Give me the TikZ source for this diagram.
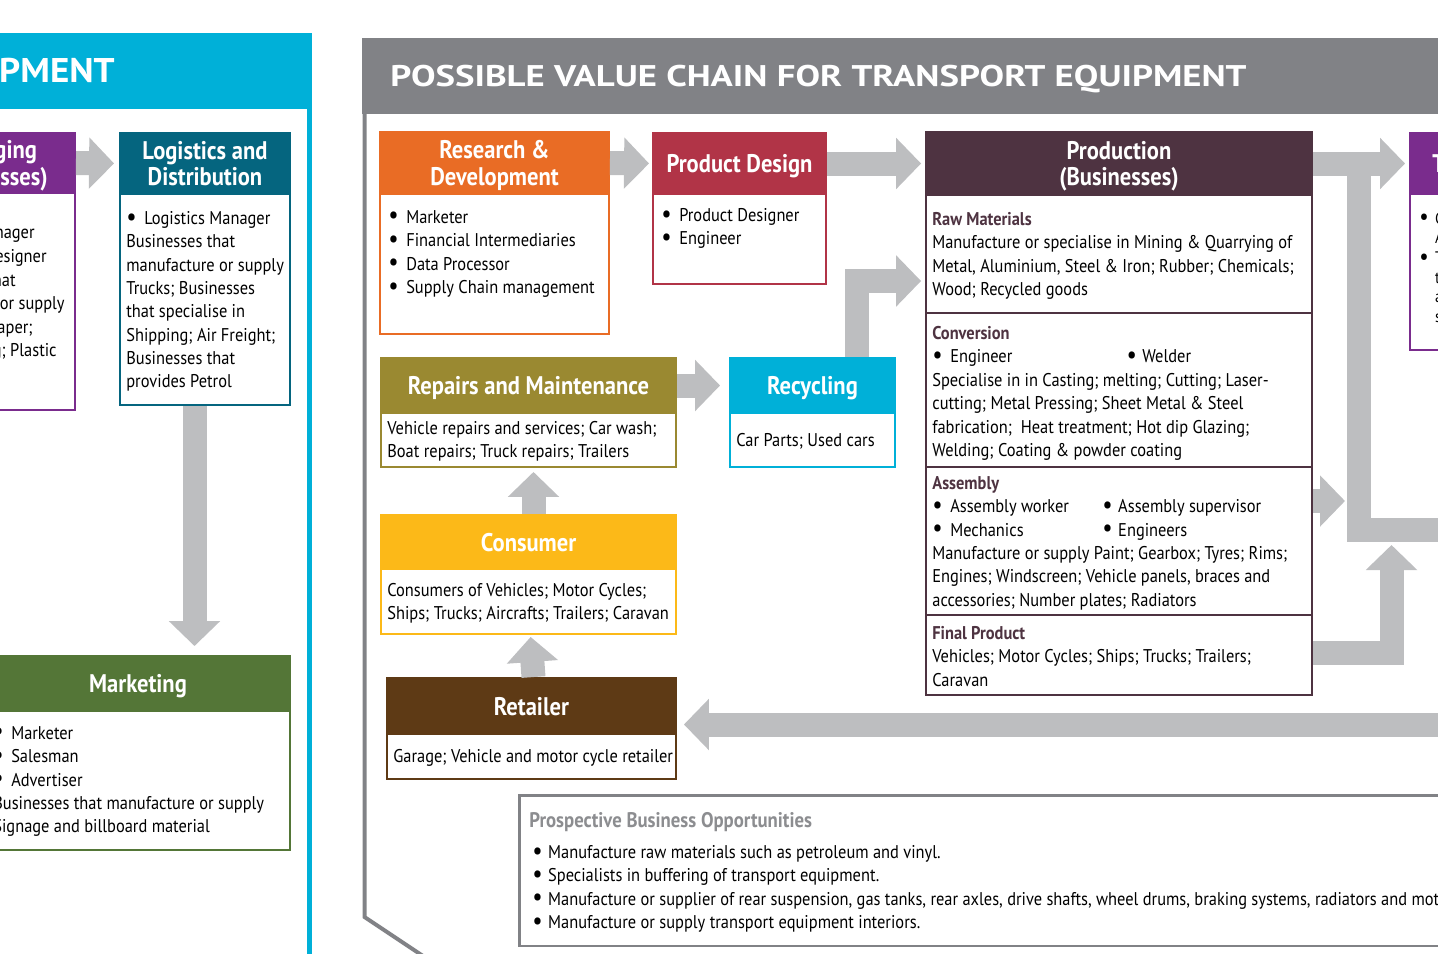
\documentclass[tikz,border=0pt]{standalone}
\usepackage{fontspec}
\usepackage{graphicx}
\setmainfont{PT Sans}[FakeStretch=0.89]
\newfontfamily\headfont{PT Sans}[FakeStretch=0.885]
\newfontfamily\titlefont{PT Sans}[FakeStretch=1.23]
\newfontfamily\lefttitlefont{PT Sans}[FakeStretch=1.08]
\usetikzlibrary{arrows.meta}

\definecolor{bandcyan}{HTML}{00B0D8}
\definecolor{packpurple}{HTML}{7A2C8D}
\definecolor{logteal}{HTML}{05657F}
\definecolor{mktgreen}{HTML}{547637}
\definecolor{panelgray}{HTML}{818286}
\definecolor{flowgray}{HTML}{BDBEC0}
\definecolor{rdorange}{HTML}{E96C25}
\definecolor{pdred}{HTML}{B13447}
\definecolor{prplum}{HTML}{4E3341}
\definecolor{rpolive}{HTML}{9A8931}
\definecolor{csyellow}{HTML}{FCB918}
\definecolor{rtbrown}{HTML}{5E3A15}
\definecolor{opptext}{HTML}{8C8D90}

\newcommand{\dotitem}{\makebox[10.2pt][l]{\raisebox{-0.4pt}{\scalebox{1.4}{\textbullet}}}}
\newcommand{\shortitem}{\makebox[9pt][l]{\raisebox{-0.4pt}{\scalebox{1.4}{\textbullet}}}}

\begin{document}
\begin{tikzpicture}[x=0.02cm, y=-0.02cm,
  hdr/.style={fill=#1, draw=#1, line width=1.1pt, text=white, inner sep=0pt, align=center, text depth=0pt,
    font=\headfont\bfseries\fontsize{14.5}{15}\selectfont},
  bodybox/.style={draw=#1, fill=white, line width=1.1pt, inner sep=0pt},
  txt/.style={anchor=north west, inner sep=0pt, align=left, font=\fontsize{10.5}{13.3}\selectfont},
  frag/.style={anchor=base east, inner sep=0pt, font=\fontsize{10.5}{13.3}\selectfont},
  flow/.style={draw=flowgray, line width=0.48cm, -{Triangle[length=0.5cm,width=1cm]}},
  band/.style={draw=flowgray, line width=0.48cm}]
  \useasboundingbox (0,0) rectangle (1438,954);

  % left panel
  \fill[bandcyan] (-5,33) rectangle (312,109);
  \fill[bandcyan] (307,109) rectangle (312,960);
  \node[anchor=base east, inner sep=0pt, text=white, font=\lefttitlefont\bfseries\fontsize{19.5}{22}\selectfont] (leftTitle) at (115,82) {PMENT};

  \node[bodybox=packpurple, minimum width=3.48cm, minimum height=4.34cm] (pkB) at (-12,301.5) {};
  \node[hdr=packpurple, minimum width=3.48cm, minimum height=1.2cm] (pkH) at (-12,163) {Packaging\\(Businesses)};
  \node[frag] (pk1) at (35,238.5) {nager};
  \node[frag] (pk2) at (47,262.5) {esigner};
  \node[frag] (pk3) at (16,286.5) {hat};
  \node[frag] (pk4) at (65,309.5) {or supply};
  \node[frag] (pk5) at (33,333.5) {aper;};
  \node[frag] (pk6) at (57,356.5) {g; Plastic};

  \node[bodybox=logteal, minimum width=3.4cm, minimum height=4.22cm] (lgB) at (205,299.5) {};
  \node[hdr=logteal, minimum width=3.4cm, minimum height=1.22cm] (lgH) at (205,163.5) {Logistics and\\Distribution};
  \node[txt] (lgT) at (126,211) {\dotitem Logistics Manager\\Businesses that\\manufacture or supply\\Trucks; Businesses\\that specialise in\\Shipping; Air Freight;\\Businesses that\\provides Petrol};

  \node[bodybox=mktgreen, minimum width=6.08cm, minimum height=2.78cm] (mkB) at (138,780.5) {};
  \node[hdr=mktgreen, minimum width=6.08cm, minimum height=1.1cm] (mkH) at (138,683.5) {Marketing};
  \node[txt] (mkT) at (-7,726) {\dotitem Marketer\\\dotitem Salesman\\\dotitem Advertiser\\Businesses that manufacture or supply\\Signage and billboard material};

  \draw[flow, shorten >=0.1cm] (pkH.east) -- (lgH.west);
  \draw[flow, shorten >=0.18cm] ([xshift=-0.21cm]lgB.south) -- ([xshift=-0.21cm]lgB.south |- mkH.north);

  % main panel
  \fill[panelgray] (362,38) rectangle (1445,114);
  \draw[panelgray, line width=0.08cm] (364.5,114) -- (364.5,917) -- (432,962);
  \node[anchor=base west, inner sep=0pt, text=white, font=\titlefont\bfseries\fontsize{17}{20}\selectfont] (mainTitle) at (390,86) {POSSIBLE VALUE CHAIN FOR TRANSPORT EQUIPMENT};

  \node[bodybox=rdorange, minimum width=4.58cm, minimum height=2.8cm] (rdB) at (494.5,264) {};
  \node[hdr=rdorange, minimum width=4.58cm, minimum height=1.24cm] (rdH) at (494.5,163) {Research \&\\Development};
  \node[txt] (rdT) at (388,210) {\dotitem Marketer\\\dotitem Financial Intermediaries\\\dotitem Data Processor\\\dotitem Supply Chain management};

  \node[bodybox=pdred, minimum width=3.46cm, minimum height=1.8cm] (pdB) at (739.5,239) {};
  \node[hdr=pdred, minimum width=3.46cm, minimum height=1.22cm] (pdH) at (739.5,163.5) {Product Design};
  \node[txt] (pdT) at (661,208) {\dotitem Product Designer\\\dotitem Engineer};

  \node[bodybox=prplum, minimum width=7.72cm, minimum height=2.36cm] (raw) at (1119,254) {};
  \node[bodybox=prplum, minimum width=7.72cm, minimum height=3.08cm] (conv) at (1119,390) {};
  \node[bodybox=prplum, minimum width=7.72cm, minimum height=2.96cm] (asm) at (1119,541) {};
  \node[bodybox=prplum, minimum width=7.72cm, minimum height=1.6cm] (fin) at (1119,655) {};
  \node[hdr=prplum, minimum width=7.72cm, minimum height=1.26cm] (prH) at (1119,163.5) {Production\\(Businesses)};
  \node[txt] (rawT) at (932,212) {\textcolor{prplum}{\bfseries Raw Materials}\\Manufacture or specialise in Mining \& Quarrying of\\Metal, Aluminium, Steel \& Iron; Rubber; Chemicals;\\Wood; Recycled goods};
  \node[txt] (convT) at (932,326) {\textcolor{prplum}{\bfseries Conversion}\\\makebox[110.5pt][l]{\dotitem Engineer}\shortitem Welder\\Specialise in in Casting; melting; Cutting; Laser-\\cutting; Metal Pressing; Sheet Metal \& Steel\\fabrication;\ \ Heat treatment; Hot dip Glazing;\\Welding; Coating \& powder coating};
  \node[txt] (asmT) at (932,476) {\textcolor{prplum}{\bfseries Assembly}\\\makebox[96.8pt][l]{\dotitem Assembly worker}\shortitem Assembly supervisor\\\makebox[96.8pt][l]{\dotitem Mechanics}\shortitem Engineers\\Manufacture or supply Paint; Gearbox; Tyres; Rims;\\Engines; Windscreen; Vehicle panels, braces and\\accessories; Number plates; Radiators};
  \node[txt] (finT) at (932,626) {\textcolor{prplum}{\bfseries Final Product}\\Vehicles; Motor Cycles; Ships; Trucks; Trailers;\\Caravan};

  \node[bodybox=packpurple, minimum width=3.8cm, minimum height=3.12cm] (trB) at (1505,272) {};
  \node[hdr=packpurple, minimum width=3.8cm, minimum height=1.22cm] (trH) at (1505,163.5) {};
  \node[anchor=west, inner sep=0pt, text=white, font=\headfont\bfseries\fontsize{14.5}{15}\selectfont] (trT) at (1432,163.5) {T};
  \node[txt, font=\fontsize{9.5}{11.2}\selectfont] (trL) at (1419,212) {\shortitem C\\\hspace{9pt}A\\\shortitem T\\\hspace{9pt}t\\\hspace{9pt}a\\\hspace{9pt}s};

  \node[bodybox=rpolive, minimum width=5.9cm, minimum height=1.08cm] (rpB) at (528.5,440) {};
  \node[hdr=rpolive, minimum width=5.9cm, minimum height=1.1cm] (rpH) at (528.5,385.5) {Repairs and Maintenance};
  \node[txt] (rpT) at (387,421) {Vehicle repairs and services; Car wash;\\Boat repairs; Truck repairs; Trailers};

  \node[bodybox=bandcyan, minimum width=3.3cm, minimum height=1.08cm] (rcB) at (812.5,440) {};
  \node[hdr=bandcyan, minimum width=3.3cm, minimum height=1.1cm] (rcH) at (812.5,385.5) {Recycling};
  \node[txt] (rcT) at (736,433) {Car Parts; Used cars};

  \node[bodybox=csyellow, minimum width=5.9cm, minimum height=1.3cm] (csB) at (528.5,601.5) {};
  \node[hdr=csyellow, minimum width=5.9cm, minimum height=1.08cm] (csH) at (528.5,542) {Consumer};
  \node[txt] (csT) at (387,583) {Consumers of Vehicles; Motor Cycles;\\Ships; Trucks; Aircrafts; Trailers; Caravan};

  \node[bodybox=rtbrown, minimum width=5.78cm, minimum height=0.9cm] (rtB) at (531.5,756.5) {};
  \node[hdr=rtbrown, minimum width=5.78cm, minimum height=1.12cm] (rtH) at (531.5,706) {Retailer};
  \node[txt] (rtT) at (393,749) {Garage; Vehicle and motor cycle retailer};

  \node[bodybox=panelgray, line width=1.7pt, minimum width=21.62cm, minimum height=3.02cm] (opp) at (1059.5,870.5) {};
  \node[txt, text=opptext, font=\bfseries\fontsize{12}{14}\selectfont] (oppTitle) at (529,812) {Prospective Business Opportunities};
  \node[txt] (oppT) at (532,845) {\shortitem Manufacture raw materials such as petroleum and vinyl.\\\shortitem Specialists in buffering of transport equipment.\\\shortitem Manufacture or supplier of rear suspension, gas tanks, rear axles, drive shafts, wheel drums, braking systems, radiators and moto\\\shortitem Manufacture or supply transport equipment interiors.};

  % flows
  \coordinate (lTop) at (1359,163);
  \coordinate (lEnd) at (1445,529.5);
  \coordinate (asmTip) at (1345,501);
  \coordinate (finTip) at (1391.5,545);
  \coordinate (rtIn) at (1445,724.5);
  \draw[band] (lTop) |- (lEnd);
  \draw[flow, shorten >=0.06cm] (rdH.east) -- (pdH.west);
  \draw[flow, shorten >=0.08cm] (pdH.east) -- (prH.west);
  \draw[flow, shorten >=0.08cm] (prH.east) -- (trH.west);
  \draw[flow] (asm.east |- asmTip) -- (asmTip);
  \draw[flow] ([yshift=0.05cm]fin.east) -| (finTip);
  \draw[flow, shorten >=0.14cm] (rtIn) -- (rtIn -| rtH.east);
  \draw[flow, shorten >=0.18cm] (rpH.east) -- (rcH.west);
  \draw[flow, shorten >=0.08cm] ([xshift=0.9cm]rcH.north) |- ([yshift=-0.54cm]raw.west);
  \draw[flow, shorten >=0.08cm] ([xshift=0.1cm]csH.north) -- ([xshift=0.1cm]rpB.south);
  \draw[flow, shorten >=0.04cm] ([xshift=0.04cm]rtH.north) -- ([xshift=0.04cm]csB.south);
\end{tikzpicture}
\end{document}
